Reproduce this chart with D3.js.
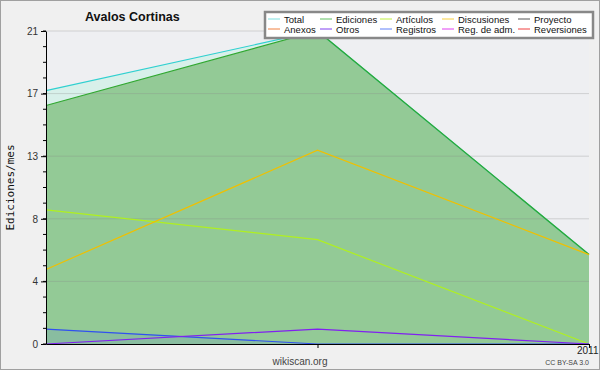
<!DOCTYPE html>
<html lang="es">
<head>
<meta charset="UTF-8">
<title>Avalos Cortinas</title>
<style>
  body { margin: 0; background: #f0f0f0; }
  svg { display: block; font-family: "Liberation Sans", Arial, sans-serif; }
</style>
</head>
<body>
<svg></svg>
<script src="https://d3js.org/d3.v7.min.js"></script>
<script>
  // months on the x axis
  let months = ['2010-11', '2010-12', '2011-01'];
  let monthLabels = ['', '', '2011'];

  // edits per month, one array per series
  let total = [17, 21, 6];
  let ediciones = [16, 21, 6];
  let articulos = [9, 7, 0];
  let discusiones = [5, 13, 6];
  let registros = [1, 0, 0];
  let otros = [0, 1, 0];

  let yMax = 21;
  let yTicks = [0, 4.2, 8.4, 12.6, 16.8, 21];

  let legendItems = [
    ['Total', '#7fe0e0'], ['Ediciones', '#60c060'], ['Artículos', '#c0f040'], ['Discusiones', '#f8d040'], ['Proyecto', '#555555'],
    ['Anexos', '#f08040'], ['Otros', '#8040f0'], ['Registros', '#6080f8'], ['Reg. de adm.', '#e040f0'], ['Reversiones', '#f04040']
  ];

  let width = 600,
    height = 370;
  let margin = { left: 46, right: 11, top: 31, bottom: 26 };

  let svg = d3.select('svg')
    .attr('width', width)
    .attr('height', height);

  svg.append('rect')
    .attr('x', 0.5).attr('y', 0.5)
    .attr('width', width - 1).attr('height', height - 1)
    .attr('fill', '#f0f0f0')
    .attr('stroke', '#a0a0a0');

  let x = d3.scalePoint()
    .domain(months)
    .range([margin.left, width - margin.right]);

  let y = d3.scaleLinear()
    .domain([0, yMax])
    .range([height - margin.bottom, margin.top]);

  // plot background
  svg.append('rect')
    .attr('x', margin.left).attr('y', margin.top)
    .attr('width', width - margin.right - margin.left)
    .attr('height', height - margin.bottom - margin.top)
    .attr('fill', '#eeeff2');

  let area = d3.area()
    .x((d, i) => x(months[i]))
    .y0(y(0))
    .y1(d => y(d));

  let line = d3.line()
    .x((d, i) => x(months[i]))
    .y(d => y(d));

  svg.append('path').attr('d', area(total)).attr('fill', '#d8f0ea');
  svg.append('path').attr('d', area(ediciones)).attr('fill', '#93ca96');
  svg.append('path').attr('d', area(registros)).attr('fill', '#4060f0').attr('opacity', 0.12);

  // grid lines
  svg.append('g')
    .selectAll('line')
    .data(yTicks.slice(1))
    .enter()
    .append('line')
    .attr('x1', margin.left).attr('x2', width - margin.right)
    .attr('y1', d => y(d)).attr('y2', d => y(d))
    .attr('stroke', '#888')
    .attr('stroke-opacity', 0.3);

  let series = [
    [total, '#30d0d0'],
    [ediciones, '#30a830'],
    [articulos, '#b0f020'],
    [discusiones, '#f0c000'],
    [registros, '#3050f0'],
    [otros, '#8020f0']
  ];

  for (let s of series) {
    svg.append('path')
      .attr('d', line(s[0]))
      .attr('fill', 'none')
      .attr('stroke', s[1])
      .attr('stroke-width', 1.2);
  }

  // y axis
  let minorTicks = d3.range(0, 21).map(i => i * yMax / 20);
  let yAxis = svg.append('g')
    .attr('transform', `translate(${margin.left},0)`)
    .call(d3.axisLeft(y).tickValues(yTicks).tickFormat(d => Math.round(d)).tickSize(5).tickSizeOuter(0));
  yAxis.select('.domain').attr('stroke', '#000');
  yAxis.selectAll('text').attr('font-size', 10).attr('fill', '#333');
  yAxis.selectAll('.minor')
    .data(minorTicks)
    .enter()
    .append('line')
    .attr('class', 'minor')
    .attr('x1', -3).attr('x2', 0)
    .attr('y1', d => y(d)).attr('y2', d => y(d))
    .attr('stroke', '#000');

  // x axis
  let xAxis = svg.append('g')
    .attr('transform', `translate(0,${height - margin.bottom})`)
    .call(d3.axisBottom(x).tickValues(months.slice(1)).tickFormat((d, i) => monthLabels[i + 1]).tickSize(4).tickSizeOuter(0));
  xAxis.select('.domain').attr('stroke', '#000');
  xAxis.selectAll('text').attr('font-size', 10).attr('fill', '#222').attr('dy', '0.3em').attr('text-anchor', 'end').attr('dx', 9);

  svg.append('text')
    .text('Ediciones/mes')
    .attr('transform', `translate(14,${(margin.top + height - margin.bottom) / 2}) rotate(-90)`)
    .attr('text-anchor', 'middle')
    .attr('font-family', '"DejaVu Sans Mono", monospace')
    .attr('font-size', 11)
    .attr('fill', '#111');

  svg.append('text')
    .text('Avalos Cortinas')
    .attr('x', 85).attr('y', 21)
    .attr('font-weight', 'bold')
    .attr('font-size', 12.5)
    .attr('fill', '#111');

  svg.append('text')
    .text('wikiscan.org')
    .attr('x', 300).attr('y', 365)
    .attr('text-anchor', 'middle')
    .attr('font-size', 10)
    .attr('fill', '#444');

  svg.append('text')
    .text('CC BY-SA 3.0')
    .attr('x', 589).attr('y', 365)
    .attr('text-anchor', 'end')
    .attr('font-size', 7)
    .attr('fill', '#444');

  // legend
  let legend = svg.append('g');
  legend.append('rect')
    .attr('x', 265).attr('y', 12)
    .attr('width', 328).attr('height', 26)
    .attr('fill', '#fff')
    .attr('stroke', '#888')
    .attr('stroke-width', 2.5);

  let colX = [268, 320, 380, 442, 518];
  legendItems.forEach((d, i) => {
    let cx = colX[i % 5];
    let cy = i < 5 ? 19 : 29;
    legend.append('line')
      .attr('x1', cx).attr('x2', cx + 12)
      .attr('y1', cy).attr('y2', cy)
      .attr('stroke', d[1]);
    legend.append('text')
      .text(d[0])
      .attr('x', cx + 16).attr('y', cy + 3.5)
      .attr('font-size', 9.5)
      .attr('fill', '#111');
  });
</script>
</body>
</html>
